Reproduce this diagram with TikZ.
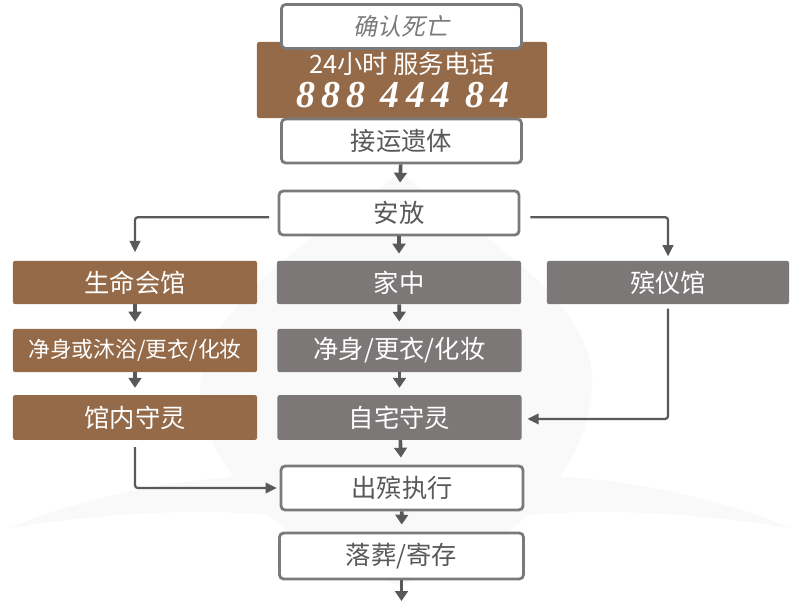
\documentclass[tikz,border=0pt]{standalone}
\usepackage{fontspec}
\setmainfont{Noto Sans CJK SC}
\newfontfamily\slantcjk[FakeSlant=0.2]{Noto Sans CJK SC}
\newfontfamily\phonefont[LetterSpace=16]{Liberation Serif}
\usepackage{tikz}
\usetikzlibrary{positioning,arrows.meta,calc}
\definecolor{bronze}{HTML}{946A48}
\definecolor{stone}{HTML}{7B7877}
\definecolor{rim}{HTML}{7A7A7A}
\definecolor{ink}{HTML}{595959}
\definecolor{mist}{HTML}{F9F9F9}

\begin{document}
\begin{tikzpicture}[x=0.025cm,y=-0.025cm,
    box/.style={rectangle, rounded corners=1.5pt, minimum height=1.08cm, inner sep=0pt, font=\fontsize{18}{20}\selectfont},
    plain/.style={box, draw=rim, fill=white, line width=2pt, rounded corners=3pt, text=ink, minimum width=6.0cm, minimum height=1.1cm},
    warm/.style={box, fill=bronze, text=white, minimum width=6.1cm},
    cool/.style={box, fill=stone, text=white, minimum width=6.1cm},
    flow/.style={draw=ink, line width=2.6pt, shorten >=5pt, -{Triangle[length=7pt,width=9pt]}},
    link/.style={draw=ink, line width=1.6pt, rounded corners=2pt, -{Triangle[length=8pt,width=7.5pt]}}]
  \useasboundingbox (0,0) rectangle (800,600);
  \fill[mist] (400,172) .. controls (470,230) and (600,300) .. (592,390)
    .. controls (585,480) and (500,560) .. (400,585)
    .. controls (300,560) and (210,480) .. (200,400)
    .. controls (195,300) and (330,230) .. (400,172) -- cycle;
  \fill[mist] (10,528) .. controls (100,490) and (220,470) .. (300,478)
    -- (300,518) .. controls (200,505) and (90,515) .. (10,528) -- cycle;
  \fill[mist] (790,528) .. controls (700,490) and (580,470) .. (500,478)
    -- (500,518) .. controls (600,505) and (710,515) .. (790,528) -- cycle;
  \node[warm, minimum width=7.25cm, minimum height=1.9cm] (phone) at (402,80) {};
  \node[text=white, font=\fontsize{18}{20}\selectfont] (hotline) at (402,64) {24小时 服务电话};
  \node[text=white, font=\phonefont\fontsize{27}{29}\selectfont\bfseries\itshape] (number) at (403,95) {888 444 84};
  \node[plain, text=rim, font=\slantcjk\fontsize{17}{19}\selectfont] (death) at (401.5,26.5) {确认死亡};
  \node[plain] (pickup) at (401.5,141) {接运遗体};
  \node[plain] (rest) at (399,213) {安放};
  \node[warm] (hall) at (135,282.5) {生命会馆};
  \node[cool] (home) at (399,282.5) {家中};
  \node[cool, minimum width=6.05cm] (parlour) at (668,282.5) {殡仪馆};
  \node[warm, font=\fontsize{15.5}{18}\selectfont] (washA) at (135,350.5) {净身或沐浴/更衣/化妆};
  \node[cool] (washB) at (399.5,350.5) {净身/更衣/化妆};
  \node[warm, minimum height=1.12cm] (wakeA) at (135,417.5) {馆内守灵};
  \node[cool, minimum height=1.12cm] (wakeB) at (399.5,417.5) {自宅守灵};
  \node[plain, minimum width=6.05cm] (funeral) at (402,488) {出殡执行};
  \node[plain, minimum width=6.1cm, minimum height=1.15cm] (burial) at (401.5,556) {落葬/寄存};
  \coordinate (tail) at (401.5,601);

  \draw[flow] (pickup) -- (rest);
  \draw[flow] (rest) -- (home);
  \draw[flow] (hall) -- (washA);
  \draw[flow] (washA) -- (wakeA);
  \draw[flow] (home) -- (washB);
  \draw[flow] (washB) -- (wakeB);
  \draw[flow] (wakeB) -- (funeral);
  \draw[flow] (funeral) -- (burial);
  \draw[flow, shorten >=0pt] (burial) -- (tail);
  \draw[link, shorten <=6pt, shorten >=6pt] ([yshift=-3]rest.west) -| (hall.north);
  \draw[link, shorten <=7pt, shorten >=3pt] ([yshift=-3]rest.east) -| (parlour.north);
  \draw[link, shorten <=3pt, shorten >=4pt] (parlour.south) |- ([yshift=-1]wakeB.east);
  \draw[link, shorten <=5pt, shorten >=2pt] (wakeA.south) |- (funeral.west);
\end{tikzpicture}
\end{document}
